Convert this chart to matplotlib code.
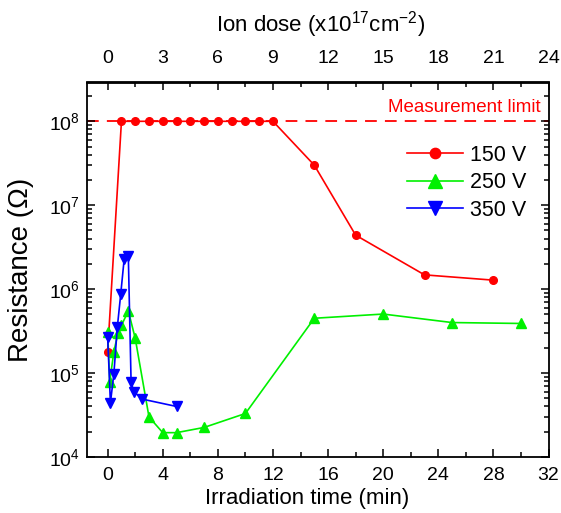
import matplotlib
matplotlib.use('Agg')
import matplotlib.pyplot as plt
from matplotlib.ticker import FixedLocator, LogLocator, NullFormatter, MultipleLocator

plt.rcParams['font.family'] = ['Liberation Sans', 'DejaVu Sans']
plt.rcParams['mathtext.fontset'] = 'custom'
plt.rcParams['mathtext.rm'] = 'Liberation Sans'
plt.rcParams['mathtext.it'] = 'Liberation Sans:italic'
plt.rcParams['mathtext.bf'] = 'Liberation Sans:bold'

# ---- data ----
time_150 = [0, 1, 2, 3, 4, 5, 6, 7, 8, 9, 10, 11, 12, 15, 18, 23, 28]
res_150 = [1.8e5, 1e8, 1e8, 1e8, 1e8, 1e8, 1e8, 1e8, 1e8, 1e8, 1e8, 1e8, 1e8,
           3.0e7, 4.4e6, 1.48e6, 1.28e6]

time_250 = [0, 0.15, 0.45, 0.75, 1.0, 1.5, 2, 3, 4, 5, 7, 10, 15, 20, 25, 30]
res_250 = [3.1e5, 7.9e4, 1.8e5, 3.0e5, 3.7e5, 5.5e5, 2.6e5, 3.0e4, 1.95e4, 1.95e4,
           2.25e4, 3.3e4, 4.5e5, 5.05e5, 4.0e5, 3.9e5]

time_350 = [0, 0.2, 0.45, 0.7, 0.95, 1.2, 1.5, 1.7, 1.9, 2.5, 5]
res_350 = [2.7e5, 4.4e4, 9.8e4, 3.5e5, 8.8e5, 2.3e6, 2.45e6, 7.8e4, 6.0e4, 4.9e4, 4.0e4]

limit = 1e8
dose_per_min = 0.75  # x10^17 cm^-2 per minute
time_ticks = [0, 4, 8, 12, 16, 20, 24, 28, 32]
dose_ticks = [0, 3, 6, 9, 12, 15, 18, 21, 24]
labels = ['150 V', '250 V', '350 V']
colors = ['#ff0000', '#00f000', '#0000ff']

# ---- figure ----
W, H = 561, 513
fig = plt.figure(figsize=(W / 100, H / 100), dpi=100)
L, R, T, B = 87, 548.5, 82.5, 457
ax = fig.add_axes([L / W, 1 - B / H, (R - L) / W, (B - T) / H])
ax.set_yscale('log')
ax.set_xlim(-1.5, 32)
ax.set_ylim(1e4, 2.9e8)

ax.axhline(limit, color=colors[0], lw=1.3, dashes=(6.5, 4.5), zorder=1)
ax.text(0.984, 0.92, 'Measurement limit', color=colors[0], fontsize=13.5,
        ha='right', va='baseline', transform=ax.transAxes)

ax.plot(time_150, res_150, color=colors[0], marker='o', ms=5.5, lw=1.2,
        label=labels[0], zorder=3)
ax.plot(time_250, res_250, color=colors[1], marker='^', ms=7, lw=1.2,
        label=labels[1], zorder=4)
ax.plot(time_350, res_350, color=colors[2], marker='v', ms=7, lw=1.2,
        label=labels[2], zorder=5)

# ticks
ax.xaxis.set_major_locator(FixedLocator(time_ticks))
ax.xaxis.set_minor_locator(MultipleLocator(2))
ax.yaxis.set_major_locator(LogLocator(base=10, numticks=10))
ax.yaxis.set_minor_locator(LogLocator(base=10, subs=range(2, 10), numticks=20))
ax.yaxis.set_minor_formatter(NullFormatter())
ax.tick_params(which='both', direction='in', top=False, right=True, width=1.1)
ax.tick_params(which='major', length=6, labelsize=14)
ax.tick_params(which='minor', length=3.5)
ax.tick_params(axis='x', which='major', pad=7.5)
ax.tick_params(axis='y', which='major', pad=5)
for s in ax.spines.values():
    s.set_linewidth(1.3)

ax.set_xlabel('Irradiation time (min)', fontsize=16)
ax.xaxis.set_label_coords(0.477, -0.083)
ax.set_ylabel('Resistance (\u03a9)', fontsize=20)
ax.yaxis.set_label_coords(-0.115, 0.5)

# top axis: ion dose
sec = ax.secondary_xaxis('top', functions=(lambda t: t * dose_per_min,
                                            lambda d: d / dose_per_min))
sec.xaxis.set_major_locator(FixedLocator(dose_ticks))
sec.xaxis.set_minor_locator(MultipleLocator(1.5))
sec.tick_params(which='both', direction='in', width=1.1)
sec.tick_params(which='major', length=6, labelsize=14, pad=11)
sec.tick_params(which='minor', length=3.5)
sec.spines['top'].set_linewidth(1.3)
sec.set_xlabel('Ion dose (x10$^{17}$cm$^{-2}$)', fontsize=16)
sec.xaxis.set_label_coords(0.506, 1.1375, transform=ax.transAxes)

leg = ax.legend(loc='upper left', bbox_to_anchor=(406.7 / W, 1 - 145 / H),
                bbox_transform=fig.transFigure, frameon=False, fontsize=15.5,
                handlelength=2.6, handletextpad=0.33, labelspacing=0.3,
                borderpad=0, borderaxespad=0, markerscale=1.35)

fig.savefig('out.png', dpi=100)
